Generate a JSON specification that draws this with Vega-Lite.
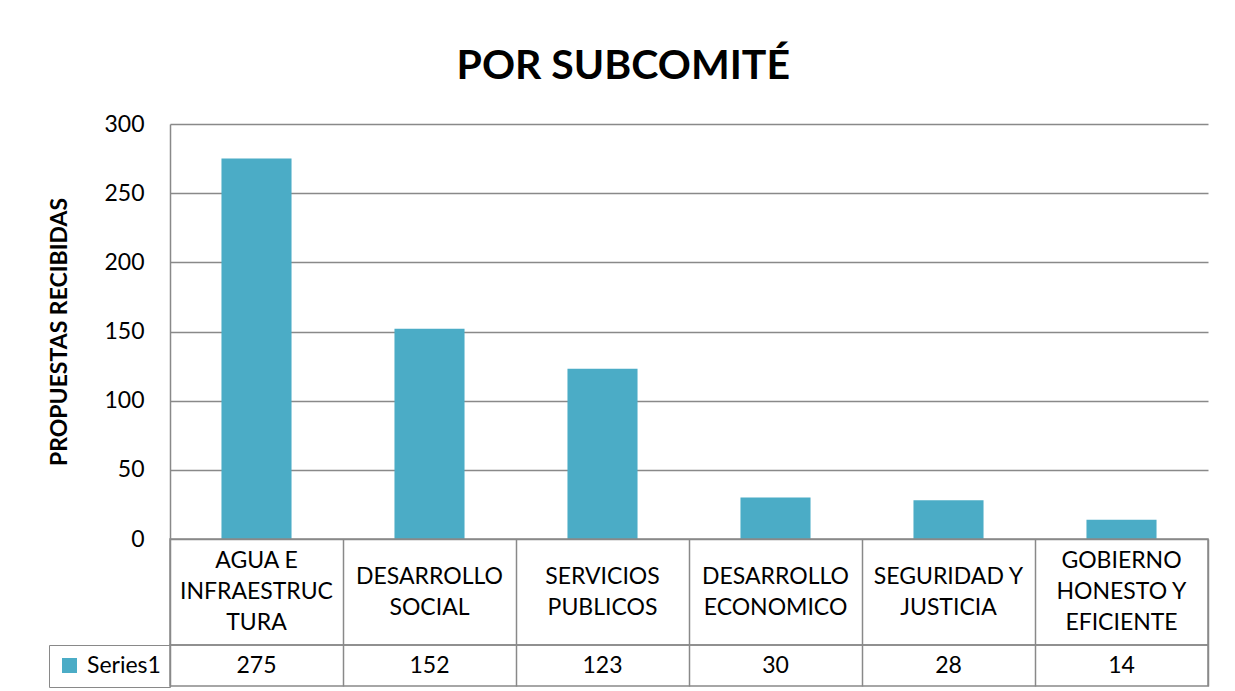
{
  "$schema": "https://vega.github.io/schema/vega-lite/v6.json",
  "padding": {"left": 47, "top": 46, "right": 5, "bottom": 0},
  "background": "white",
  "title": {"text": "POR SUBCOMITÉ", "fontSize": 41, "font": "Lato", "fontWeight": "bold", "color": "#000000", "anchor": "middle", "offset": 25, "dx": -5},
  "config": {
    "font": "Lato",
    "view": {"stroke": null},
    "axis": {"labelColor": "#000000", "titleColor": "#000000", "labelFont": "Lato", "titleFont": "Lato"},
    "legend": {"labelColor": "#000000", "labelFont": "Lato"}
  },
  "spacing": 0,
  "bounds": "flush",
  "resolve": {"scale": {"color": "independent"}, "legend": {"color": "independent"}},
  "datasets": {
    "d": [
      {"subcomite": "AGUA E\nINFRAESTRUC\nTURA", "series": "Series1", "value": 275},
      {"subcomite": "DESARROLLO\nSOCIAL", "series": "Series1", "value": 152},
      {"subcomite": "SERVICIOS\nPUBLICOS", "series": "Series1", "value": 123},
      {"subcomite": "DESARROLLO\nECONOMICO", "series": "Series1", "value": 30},
      {"subcomite": "SEGURIDAD Y\nJUSTICIA", "series": "Series1", "value": 28},
      {"subcomite": "GOBIERNO\nHONESTO Y\nEFICIENTE", "series": "Series1", "value": 14}
    ]
  },
  "vconcat": [
    {
      "width": 1038,
      "height": 415,
      "data": {"name": "d"},
      "mark": {"type": "bar", "color": "#4BACC6", "width": {"band": 0.405}},
      "encoding": {
        "x": {"field": "subcomite", "type": "nominal", "sort": null, "scale": {"paddingInner": 0, "paddingOuter": 0}, "axis": null},
        "y": {
          "field": "value", "type": "quantitative",
          "scale": {"domain": [0, 300], "nice": false},
          "axis": {
            "values": [0, 50, 100, 150, 200, 250, 300],
            "title": "PROPUESTAS RECIBIDAS",
            "titleFontSize": 23, "titleFontWeight": "bold", "titlePadding": 32,
            "labelFontSize": 23, "labelPadding": 26, "ticks": false,
            "domainColor": "#898989", "domainWidth": 1.5,
            "grid": true, "gridColor": "#898989", "gridWidth": 1.5, "gridOpacity": 1
          }
        }
      }
    },
    {
      "width": 1038,
      "height": 106,
      "data": {"name": "d"},
      "view": {"stroke": "#898989", "strokeWidth": 1.5},
      "mark": {"type": "text", "fontSize": 23, "lineHeight": 31, "lineBreak": "\n", "baseline": "middle", "color": "#000000",
               "dy": {"expr": "-(length(split(datum.subcomite, '\\n')) - 1) * 15.5"}},
      "encoding": {
        "x": {"field": "subcomite", "type": "nominal", "sort": null, "scale": {"paddingInner": 0, "paddingOuter": 0},
              "axis": {"grid": true, "tickBand": "extent", "labels": false, "ticks": false, "domain": false, "title": null, "gridColor": "#898989", "gridWidth": 1.5, "gridOpacity": 1}},
        "text": {"field": "subcomite"}
      }
    },
    {
      "width": 1038,
      "height": 41,
      "data": {"name": "d"},
      "view": {"stroke": "#898989", "strokeWidth": 1.5},
      "layer": [
        {
          "mark": {"type": "square", "opacity": 0},
          "encoding": {
            "x": {"field": "subcomite", "type": "nominal", "sort": null, "scale": {"paddingInner": 0, "paddingOuter": 0},
                  "axis": {"grid": true, "tickBand": "extent", "labels": false, "ticks": false, "domain": false, "title": null, "gridColor": "#898989", "gridWidth": 1.5, "gridOpacity": 1}},
            "color": {
              "field": "series", "type": "nominal",
              "scale": {"range": ["#4BACC6"]},
              "legend": {
                "orient": "left", "offset": 0, "title": null,
                "strokeColor": "#898989", "padding": 9,
                "symbolType": "square", "symbolSize": 225, "symbolOpacity": 1, "symbolStrokeWidth": 0,
                "labelFontSize": 23, "labelOffset": 6
              }
            }
          }
        },
        {
          "mark": {"type": "text", "fontSize": 23, "baseline": "middle", "color": "#000000"},
          "encoding": {
            "x": {"field": "subcomite", "type": "nominal", "sort": null},
            "text": {"field": "value", "type": "quantitative"}
          }
        }
      ]
    }
  ]
}
